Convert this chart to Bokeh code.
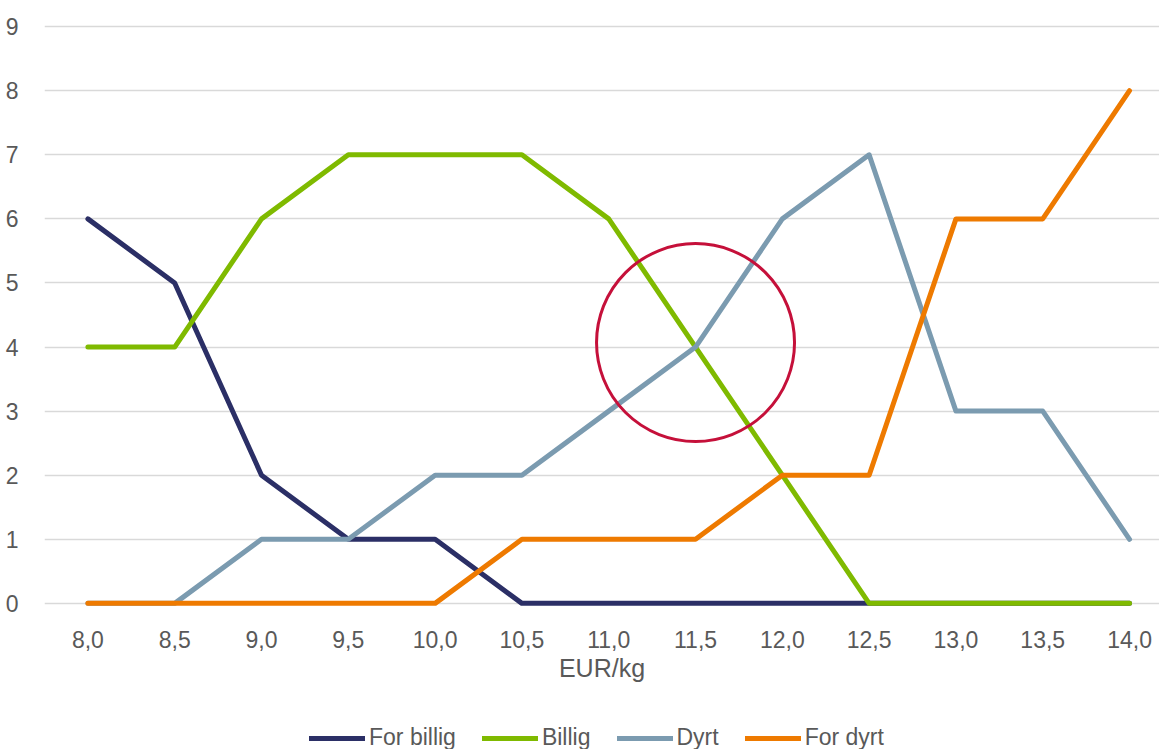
from bokeh.plotting import figure
from bokeh.models import Range1d, FixedTicker, Legend, LegendItem
from bokeh.layouts import column
from bokeh.embed import file_html
from bokeh.resources import INLINE

# ---- data ----
x_labels = ["8,0", "8,5", "9,0", "9,5", "10,0", "10,5", "11,0", "11,5", "12,0", "12,5", "13,0", "13,5", "14,0"]
for_billig = [6, 5, 2, 1, 1, 0, 0, 0, 0, 0, 0, 0, 0]
billig = [4, 4, 6, 7, 7, 7, 6, 4, 2, 0, 0, 0, 0]
dyrt = [0, 0, 1, 1, 2, 2, 3, 4, 6, 7, 3, 3, 1]
for_dyrt = [0, 0, 0, 0, 0, 1, 1, 1, 2, 2, 6, 6, 8]
series_names = ["For billig", "Billig", "Dyrt", "For dyrt"]
y_ticks = [0, 1, 2, 3, 4, 5, 6, 7, 8, 9]
x_title = "EUR/kg"
highlight_category = "11,5"
highlight_value = 4.07

colors = ["#2B2F66", "#7FBA00", "#7B9BB0", "#EE7A00"]
FONT = "Liberation Sans"
TXT = "#595959"

xs = list(range(len(x_labels)))
series = [for_billig, billig, dyrt, for_dyrt]

p = figure(width=1159, height=700, output_backend="svg", toolbar_location=None,
           x_range=Range1d(-0.5, 12.345), y_range=Range1d(-0.08, 9.08),
           min_border_left=44, min_border_right=0, min_border_top=21, min_border_bottom=92)
p.outline_line_color = None
p.background_fill_color = "white"
p.border_fill_color = "white"

# axes
p.xaxis.ticker = FixedTicker(ticks=xs)
p.xaxis.major_label_overrides = {i: l for i, l in enumerate(x_labels)}
p.yaxis.ticker = FixedTicker(ticks=y_ticks)
for ax in (p.xaxis, p.yaxis):
    ax.axis_line_color = None
    ax.major_tick_line_color = None
    ax.minor_tick_line_color = None
    ax.major_label_text_font = FONT
    ax.major_label_text_font_size = "23px"
    ax.major_label_text_color = TXT
p.xaxis.major_label_standoff = 16
p.yaxis.major_label_standoff = 20
p.xaxis.axis_label = x_title
p.xaxis.axis_label_text_font = FONT
p.xaxis.axis_label_text_font_size = "25px"
p.xaxis.axis_label_text_font_style = "normal"
p.xaxis.axis_label_text_color = TXT
p.xaxis.axis_label_standoff = 3

p.xgrid.grid_line_color = None
p.ygrid.grid_line_color = "#D9D9D9"
p.ygrid.grid_line_width = 1.5
p.ygrid.ticker = FixedTicker(ticks=y_ticks)

for vals, c in zip(series, colors):
    p.line(xs, vals, line_color=c, line_width=5, line_cap="round", line_join="round")

# highlight circle
hx = x_labels.index(highlight_category)
p.scatter([hx], [highlight_value], marker="circle", size=198, fill_alpha=0,
          line_color="#C5103A", line_width=3)

# ---- legend strip (its ranges keep the series out of view; only the legend shows) ----
lg = figure(width=1159, height=49, output_backend="svg", toolbar_location=None,
            x_range=Range1d(100, 101), y_range=Range1d(100, 101),
            x_axis_type=None, y_axis_type=None,
            min_border_left=0, min_border_right=0, min_border_top=0, min_border_bottom=0)
lg.outline_line_color = None
lg.grid.visible = False
lg_renderers = [lg.line(xs, vals, line_color=c, line_width=5, line_cap="round")
                for vals, c in zip(series, colors)]
legend = Legend(items=[LegendItem(label=n, renderers=[r]) for n, r in zip(series_names, lg_renderers)],
                orientation="horizontal", location=(265, -2),
                glyph_width=56, glyph_height=26, label_height=26, label_standoff=4, spacing=26,
                padding=0, margin=0, border_line_color=None, background_fill_alpha=0,
                label_text_font=FONT, label_text_font_size="23px", label_text_color=TXT,
                label_text_baseline="middle")
lg.add_layout(legend, "center")

layout = column(p, lg, spacing=0)
open("out.html", "w").write(file_html(layout, INLINE))
